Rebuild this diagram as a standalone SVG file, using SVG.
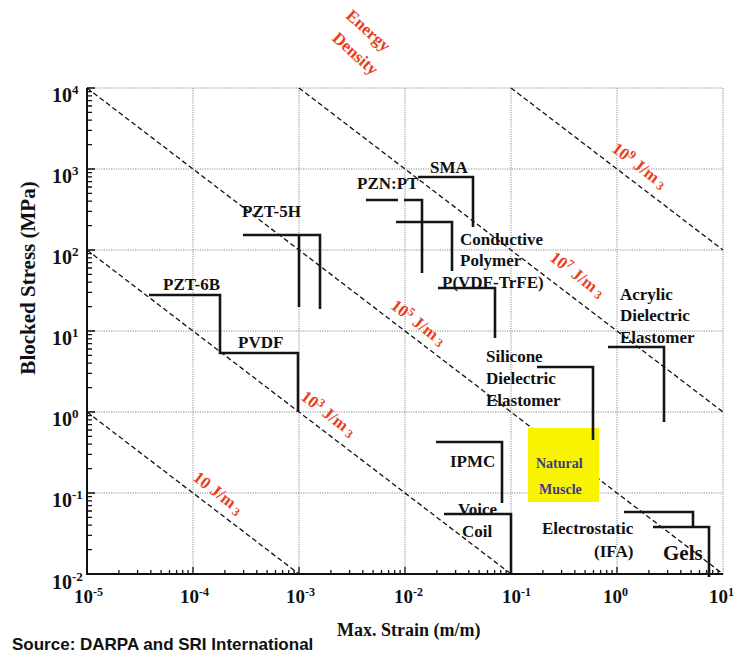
<svg xmlns="http://www.w3.org/2000/svg" width="737" height="658" viewBox="0 0 737 658">
<style>
.grid{stroke:#8a8a8a;stroke-width:1;stroke-dasharray:1.2 1.2;fill:none}
.axis{stroke:#111;stroke-width:2;fill:none}
.tick{stroke:#111;stroke-width:1.3;fill:none}
.energy{stroke:#111;stroke-width:1.3;stroke-dasharray:5 3;fill:none}
.data{stroke:#151515;stroke-width:2.6;fill:none;stroke-linejoin:miter}
.lbl{font-family:"Liberation Serif","Times New Roman",serif;font-weight:bold;fill:#111;font-size:17px}
.big{font-size:21px}
.tk{font-family:"Liberation Serif","Times New Roman",serif;font-weight:bold;fill:#111}
.red{font-family:"Liberation Serif","Times New Roman",serif;font-weight:bold;fill:#e8401c;font-size:17px}
.title{font-size:17px}
.sup{font-size:12px}
</style>
<rect width="737" height="658" fill="#fff"/>
<g id="grid">
<path class="grid" d="M193,88V574M299,88V574M405,88V574M511,88V574M617,88V574M723,88V574M87,88H723M87,169H723M87,250H723M87,331H723M87,412H723M87,493H723"/>
</g>
<g id="axes">
<path class="axis" d="M87,88V574H723"/>
<path class="tick" d="M118.9,574v-4M137.6,574v-4M150.8,574v-4M161.1,574v-4M169.5,574v-4M176.6,574v-4M182.7,574v-4M188.1,574v-4M193,574v-7M224.9,574v-4M243.6,574v-4M256.8,574v-4M267.1,574v-4M275.5,574v-4M282.6,574v-4M288.7,574v-4M294.1,574v-4M299,574v-7M330.9,574v-4M349.6,574v-4M362.8,574v-4M373.1,574v-4M381.5,574v-4M388.6,574v-4M394.7,574v-4M400.1,574v-4M405,574v-7M436.9,574v-4M455.6,574v-4M468.8,574v-4M479.1,574v-4M487.5,574v-4M494.6,574v-4M500.7,574v-4M506.1,574v-4M511,574v-7M542.9,574v-4M561.6,574v-4M574.8,574v-4M585.1,574v-4M593.5,574v-4M600.6,574v-4M606.7,574v-4M612.1,574v-4M617,574v-7M648.9,574v-4M667.6,574v-4M680.8,574v-4M691.1,574v-4M699.5,574v-4M706.6,574v-4M712.7,574v-4M718.1,574v-4"/>
<path class="tick" d="M87,549.6h5M87,535.4h5M87,525.2h5M87,517.4h5M87,511h5M87,505.6h5M87,500.9h5M87,496.7h5M87,493h8M87,468.6h5M87,454.4h5M87,444.2h5M87,436.4h5M87,430h5M87,424.6h5M87,419.9h5M87,415.7h5M87,412h8M87,387.6h5M87,373.4h5M87,363.2h5M87,355.4h5M87,349h5M87,343.6h5M87,338.9h5M87,334.7h5M87,331h8M87,306.6h5M87,292.4h5M87,282.2h5M87,274.4h5M87,268h5M87,262.6h5M87,257.9h5M87,253.7h5M87,250h8M87,225.6h5M87,211.4h5M87,201.2h5M87,193.4h5M87,187h5M87,181.6h5M87,176.9h5M87,172.7h5M87,169h8M87,144.6h5M87,130.4h5M87,120.2h5M87,112.4h5M87,106h5M87,100.6h5M87,95.9h5M87,91.7h5M87,88h8"/>
</g>
<g id="tick-labels" class="tk">
<text x="52" y="102" font-size="20">10<tspan font-size="13" dy="-8">4</tspan></text>
<text x="52" y="183" font-size="20">10<tspan font-size="13" dy="-8">3</tspan></text>
<text x="52" y="264" font-size="20">10<tspan font-size="13" dy="-8">2</tspan></text>
<text x="52" y="345" font-size="20">10<tspan font-size="13" dy="-8">1</tspan></text>
<text x="52" y="426" font-size="20">10<tspan font-size="13" dy="-8">0</tspan></text>
<text x="52" y="507" font-size="20">10<tspan font-size="13" dy="-8">-1</tspan></text>
<text x="52" y="589" font-size="20">10<tspan font-size="13" dy="-8">-2</tspan></text>
<text x="74" y="603" font-size="19">10<tspan font-size="12" dy="-7">-5</tspan></text>
<text x="180" y="603" font-size="19">10<tspan font-size="12" dy="-7">-4</tspan></text>
<text x="286" y="603" font-size="19">10<tspan font-size="12" dy="-7">-3</tspan></text>
<text x="394" y="603" font-size="19">10<tspan font-size="12" dy="-7">-2</tspan></text>
<text x="502" y="603" font-size="19">10<tspan font-size="12" dy="-7">-1</tspan></text>
<text x="603" y="603" font-size="19">10<tspan font-size="12" dy="-7">0</tspan></text>
<text x="709" y="603" font-size="19">10<tspan font-size="12" dy="-7">1</tspan></text>
</g>
<g id="axis-titles" class="tk">
<text transform="translate(35,278) rotate(-90)" text-anchor="middle" font-size="21">Blocked Stress (MPa)</text>
<text x="337" y="636" font-size="18">Max. Strain (m/m)</text>
<text x="12" y="650" font-family="Liberation Sans, Arial, sans-serif" font-weight="bold" font-size="17" fill="#111">Source: DARPA and SRI International</text>
</g>
<g id="energy-lines">
<path class="energy" d="M87,412L299,574M87,250L511,574M87,88L723,574M299,88L723,412M511,88L723,250"/>
</g>
<g id="energy-labels" class="red">
<text class="title" transform="translate(368,31) rotate(42)" text-anchor="middle" dy="5">Energy</text>
<text class="title" transform="translate(355,54) rotate(42)" text-anchor="middle" dy="5">Density</text>
<text transform="translate(218,493) rotate(37.4)" text-anchor="middle" dy="5">10 J/m<tspan class="sup" dx="3" dy="3">3</tspan></text>
<text transform="translate(328,414) rotate(37.4)" text-anchor="middle" dy="5">10<tspan class="sup" dy="-6">3</tspan><tspan dy="6"> J/m</tspan><tspan class="sup" dx="3" dy="2">3</tspan></text>
<text transform="translate(418,323) rotate(37.4)" text-anchor="middle" dy="5">10<tspan class="sup" dy="-6">5</tspan><tspan dy="6"> J/m</tspan><tspan class="sup" dx="3" dy="2">3</tspan></text>
<text transform="translate(577,275) rotate(37.4)" text-anchor="middle" dy="5">10<tspan class="sup" dy="-6">7</tspan><tspan dy="6"> J/m</tspan><tspan class="sup" dx="3" dy="2">3</tspan></text>
<text transform="translate(639,166) rotate(37.4)" text-anchor="middle" dy="5">10<tspan class="sup" dy="-6">9</tspan><tspan dy="6"> J/m</tspan><tspan class="sup" dx="3" dy="2">3</tspan></text>
</g>
<g id="natural-muscle">
<rect x="528" y="428" width="71" height="74" fill="#f8f400"/>
<text x="536" y="468" font-family="Liberation Serif, serif" font-weight="bold" font-size="14" fill="#3b3b8f">Natural</text>
<text x="539" y="494" font-family="Liberation Serif, serif" font-weight="bold" font-size="14" fill="#3b3b8f">Muscle</text>
</g>
<g id="pzt-6b-pvdf">
<path class="data" d="M149,295H220V353H298V412"/>
<text class="lbl" x="163" y="290">PZT-6B</text>
<text class="lbl" x="238" y="348">PVDF</text>
</g>
<g id="pzt-5h">
<path class="data" d="M243,235H320V309M299,235V307"/>
<text class="lbl" x="242" y="217">PZT-5H</text>
</g>
<g id="pzn-pt">
<path class="data" d="M366,200H398M404,200H422V273"/>
<text class="lbl" x="357" y="189">PZN:PT</text>
</g>
<g id="sma">
<path class="data" d="M418,177H473V227"/>
<text class="lbl" x="430" y="173">SMA</text>
</g>
<g id="conductive-polymer">
<path class="data" d="M396,222H452V271"/>
<text class="lbl" x="460" y="245">Conductive</text>
<text class="lbl" x="460" y="266">Polymer</text>
</g>
<g id="p-vdf-trfe">
<path class="data" d="M438,288H495V338"/>
<text class="lbl" x="442" y="288">P(VDF-TrFE)</text>
</g>
<g id="acrylic">
<path class="data" d="M608,347H664V422"/>
<text class="lbl" x="620" y="300">Acrylic</text>
<text class="lbl" x="620" y="321">Dielectric</text>
<text class="lbl" x="620" y="343">Elastomer</text>
</g>
<g id="silicone">
<path class="data" d="M537,367H593V440"/>
<text class="lbl" x="486" y="362">Silicone</text>
<text class="lbl" x="486" y="384">Dielectric</text>
<text class="lbl" x="486" y="406">Elastomer</text>
</g>
<g id="ipmc">
<path class="data" d="M436,442H502V503"/>
<text class="lbl" x="450" y="467">IPMC</text>
</g>
<g id="voice-coil">
<path class="data" d="M444,514H511V574"/>
<text class="lbl" x="458" y="515">Voice</text>
<text class="lbl" x="462" y="537">Coil</text>
</g>
<g id="electrostatic">
<path class="data" d="M624,512H693V527"/>
<text class="lbl" x="542" y="534">Electrostatic</text>
<text class="lbl" x="594" y="557">(IFA)</text>
</g>
<g id="gels">
<path class="data" d="M653,527H709V577"/>
<text class="lbl big" x="663" y="560">Gels</text>
</g>
</svg>
